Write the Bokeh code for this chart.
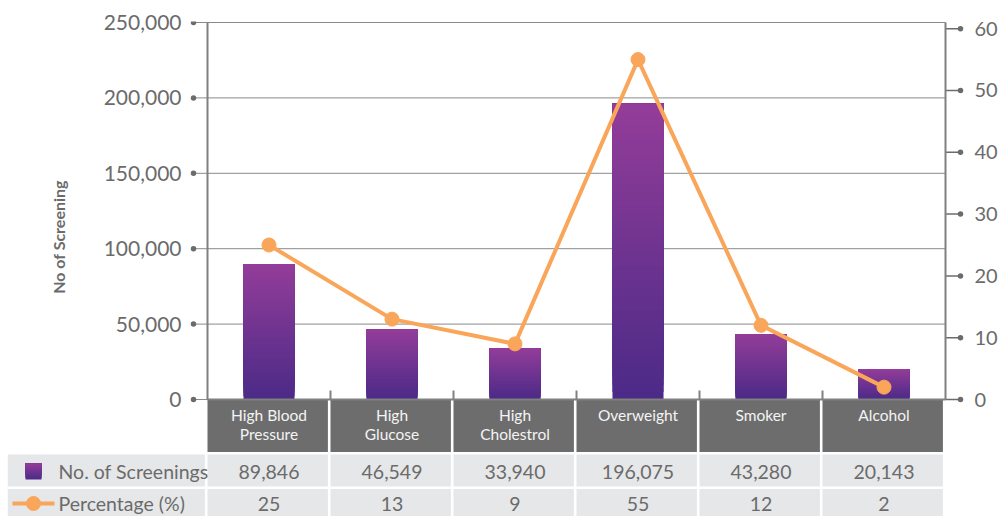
from bokeh.plotting import figure
from bokeh.models import Range1d, LinearAxis, FixedTicker, NumeralTickFormatter
from bokeh.layouts import column
from bokeh.embed import file_html
from bokeh.resources import INLINE
from bokeh.core.properties import value

# ---------------- data ----------------
categories = ["High Blood Pressure", "High Glucose", "High Cholestrol",
              "Overweight", "Smoker", "Alcohol"]
header_labels = ["High Blood\nPressure", "High\nGlucose", "High\nCholestrol",
                 "Overweight", "Smoker", "Alcohol"]
screenings = [89846, 46549, 33940, 196075, 43280, 20143]
percentage = [25, 13, 9, 55, 12, 2]
left_ticks = [0, 50000, 100000, 150000, 200000, 250000]
right_ticks = [0, 10, 20, 30, 40, 50, 60]
series_names = ["No. of Screenings", "Percentage (%)"]
y_title = "No of Screening"
LEFT_MAX = 250000
RIGHT_MAX = 61

# ---------------- style / layout constants (pixels) ----------------
FONT = "Lato"
TXT = "#6b6b6b"
LINE_GRAY = "#808080"
GRID_GRAY = "#8a8a8a"
HEAD_BG = "#6d6d6d"
ROW_BG = "#e6e7e9"
ORANGE = "#f9a65a"
BAR_TOP = (0x93, 0x3d, 0x99)
BAR_BOT = (0x4b, 0x2a, 0x87)

W = 1000
n = len(categories)
centers = [i + 0.5 for i in range(n)]
UNIT = 123              # px per category column
X0_PAGE = 207           # page x of the first category boundary
FRAME_L = 186           # page x of the figure frame's left edge
FRAME_R = 966           # page x of the figure frame's right edge
DOT_L = 193             # page x of the left tick dots
DOT_R = 960             # page x of the right tick dots
Y_TOP = 22              # page y of LEFT_MAX
Y_ZERO = 399            # page y of 0
H1 = 452                # main figure height (incl. table header row)
HEAD_BOTTOM = 451.7
PXY = LEFT_MAX / (Y_ZERO - Y_TOP)       # data units per px (left)
PXR = RIGHT_MAX / (Y_ZERO - Y_TOP)      # data units per px (right)


def mix(f):
    r = [int(round(BAR_BOT[j] + (BAR_TOP[j] - BAR_BOT[j]) * f)) for j in range(3)]
    return "#%02x%02x%02x" % tuple(r)


def ly(ypage):
    return (Y_ZERO - ypage) * PXY


def px(xpage):
    return (xpage - X0_PAGE) / UNIT


# ---------------- main chart ----------------
p = figure(width=W, height=H1,
           x_range=Range1d(px(FRAME_L), px(FRAME_R)),
           y_range=Range1d(ly(H1), ly(Y_TOP - 1)),
           x_axis_location=None, output_backend="svg", toolbar_location=None,
           min_border_left=FRAME_L, min_border_right=W - FRAME_R,
           min_border_top=Y_TOP - 1, min_border_bottom=0)
p.frame_align = False
p.outline_line_color = None
p.background_fill_color = "white"
p.border_fill_color = "white"
p.grid.visible = False

ya = p.yaxis[0]
ya.ticker = FixedTicker(ticks=left_ticks)
ya.formatter = NumeralTickFormatter(format="0,0")
ya.axis_line_color = None
ya.major_tick_line_color = None
ya.minor_tick_line_color = None
ya.major_tick_in = 0
ya.major_tick_out = 0
ya.minor_tick_in = 0
ya.minor_tick_out = 0
ya.major_label_text_font = FONT
ya.major_label_text_font_size = "21px"
ya.major_label_text_color = TXT
ya.major_label_standoff = 5
ya.axis_label = y_title
ya.axis_label_text_font = FONT
ya.axis_label_text_font_style = "bold"
ya.axis_label_text_font_size = "16px"
ya.axis_label_text_color = TXT
ya.axis_label_standoff = 33

p.extra_y_ranges = {"pct": Range1d((Y_ZERO - H1) * PXR, (Y_ZERO - Y_TOP + 1) * PXR)}
ra = LinearAxis(y_range_name="pct", ticker=FixedTicker(ticks=right_ticks))
ra.axis_line_color = None
ra.major_tick_line_color = None
ra.minor_tick_line_color = None
ra.major_tick_in = 0
ra.major_tick_out = 0
ra.minor_tick_in = 0
ra.minor_tick_out = 0
ra.major_label_text_font = FONT
ra.major_label_text_font_size = "20px"
ra.major_label_text_color = TXT
ra.major_label_standoff = 8
p.add_layout(ra, "right")

# grid lines (starting at the left tick dots) and right-axis tick stubs
nl, nr = len(left_ticks), len(right_ticks)
p.segment(x0=[px(DOT_L)] * nl, y0=left_ticks, x1=[n] * nl, y1=left_ticks,
          line_color=GRID_GRAY, line_width=1)
p.segment(x0=[n] * nr, y0=right_ticks, x1=[px(DOT_R)] * nr, y1=right_ticks,
          y_range_name="pct", line_color=TXT, line_width=1.5)

# gradient bars: stacked overlapping slices, each running up to the bar's value
N = 40
bx, bb, bt, bc = [], [], [], []
for c, v in zip(centers, screenings):
    for k in range(N):
        bx.append(c)
        bb.append(v * k / N)
        bt.append(v)
        bc.append(mix((k + 0.5) / N))
p.vbar(x=bx, bottom=bb, top=bt, width=0.415, fill_color=bc, line_color=None)

# header row of the data table (category names) below the plot area
gap = 2.6 / UNIT
p.quad(left=list(range(n)), right=[i + 1 - gap for i in range(n)],
       top=[0] * n, bottom=[ly(HEAD_BOTTOM)] * n, fill_color=HEAD_BG, line_color=None)
p.text(x=centers, y=[ly(405)] * n, text=header_labels, text_align="center",
       text_baseline="top", text_font=value(FONT), text_font_size="15.5px",
       text_color="#f4f4f4", text_line_height=1.08)

# frame lines (left, right, bottom) and small boundary ticks
p.segment(x0=[0, n, 0], y0=[0, 0, 0], x1=[0, n, n], y1=[LEFT_MAX, LEFT_MAX, 0],
          line_color=LINE_GRAY, line_width=2)
p.segment(x0=list(range(1, n)), y0=[0] * (n - 1), x1=list(range(1, n)),
          y1=[9 * PXY] * (n - 1), line_color=LINE_GRAY, line_width=2)

# tick-end dots
p.scatter(x=[px(DOT_L)] * nl, y=left_ticks, size=5.5, fill_color=TXT, line_color=None)
p.scatter(x=[px(DOT_R)] * nr, y=right_ticks, y_range_name="pct", size=5.5,
          fill_color=TXT, line_color=None)

p.line(x=centers, y=percentage, y_range_name="pct", line_color=ORANGE, line_width=4)
p.scatter(x=centers, y=percentage, y_range_name="pct", size=14,
          fill_color=ORANGE, line_color=ORANGE)

# ---------------- data table rows ----------------
TH = 516 - H1

t = figure(width=W, height=TH, x_range=Range1d(px(0), px(W)), y_range=Range1d(TH, 0),
           x_axis_location=None, y_axis_location=None, output_backend="svg",
           toolbar_location=None, min_border_left=0, min_border_right=0,
           min_border_top=0, min_border_bottom=0)
t.frame_align = False
t.outline_line_color = None
t.grid.visible = False

rows = [(2, 34), (36.5, TH)]
for top, bot in rows:
    t.quad(left=list(range(n)), right=[i + 1 - gap for i in range(n)],
           top=[top] * n, bottom=[bot] * n, fill_color=ROW_BG, line_color=None)
    t.quad(left=[px(7.3)], right=[-gap], top=[top], bottom=[bot],
           fill_color=ROW_BG, line_color=None)

row1_y = 19
row2_y = 51
t.text(x=centers, y=[row1_y] * n, text=[f"{v:,}" for v in screenings], text_align="center",
       text_baseline="middle", text_font=value(FONT), text_font_size="19.5px", text_color=TXT)
t.text(x=centers, y=[row2_y] * n, text=[str(v) for v in percentage], text_align="center",
       text_baseline="middle", text_font=value(FONT), text_font_size="19.5px", text_color=TXT)
t.text(x=[px(58), px(58)], y=[row1_y, row2_y], text=series_names, text_align="left",
       text_baseline="middle", text_font=value(FONT), text_font_size="19.5px", text_color=TXT)

# legend swatch (gradient square) and legend line
M = 10
sq = 16
t.quad(left=[px(25)] * M, right=[px(41)] * M,
       top=[row1_y - sq / 2] * M,
       bottom=[row1_y + sq / 2 - sq * k / M for k in range(M)],
       fill_color=[mix((k + 0.5) / M) for k in range(M)], line_color=None)
t.line(x=[px(12), px(54)], y=[row2_y, row2_y], line_color=ORANGE, line_width=4)
t.scatter(x=[px(33)], y=[row2_y], size=14, fill_color=ORANGE, line_color=ORANGE)

layout = column(p, t, spacing=0)
open("out.html", "w").write(file_html(layout, INLINE))
